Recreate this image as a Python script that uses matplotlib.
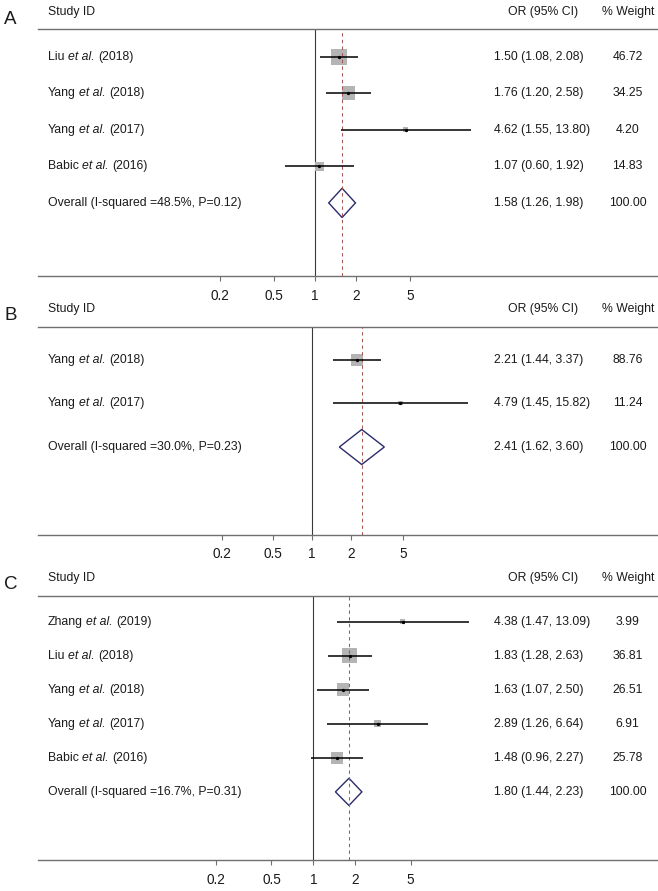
import numpy as np
import matplotlib
matplotlib.use("Agg")
import matplotlib.pyplot as plt
from matplotlib.patches import Polygon
from matplotlib.ticker import NullLocator, FixedLocator, FixedFormatter
from matplotlib.transforms import offset_copy

plt.rcParams['font.family'] = ['Liberation Sans', 'DejaVu Sans']

# ---------------- data ----------------
tick_values = [0.2, 0.5, 1, 2, 5]
tick_labels = ["0.2", "0.5", "1", "2", "5"]

A_authors = ["Liu", "Yang", "Yang", "Babic"]
A_years = [2018, 2018, 2017, 2016]
A_or = [1.50, 1.76, 4.62, 1.07]
A_lo = [1.08, 1.20, 1.55, 0.60]
A_hi = [2.08, 2.58, 13.80, 1.92]
A_w = [46.72, 34.25, 4.20, 14.83]
A_overall = [1.58, 1.26, 1.98]
A_i2 = 48.5
A_p = 0.12

B_authors = ["Yang", "Yang"]
B_years = [2018, 2017]
B_or = [2.21, 4.79]
B_lo = [1.44, 1.45]
B_hi = [3.37, 15.82]
B_w = [88.76, 11.24]
B_overall = [2.41, 1.62, 3.60]
B_i2 = 30.0
B_p = 0.23

C_authors = ["Zhang", "Liu", "Yang", "Yang", "Babic"]
C_years = [2019, 2018, 2018, 2017, 2016]
C_or = [4.38, 1.83, 1.63, 2.89, 1.48]
C_lo = [1.47, 1.28, 1.07, 1.26, 0.96]
C_hi = [13.09, 2.63, 2.50, 6.64, 2.27]
C_w = [3.99, 36.81, 26.51, 6.91, 25.78]
C_overall = [1.80, 1.44, 2.23]
C_i2 = 16.7
C_p = 0.31

panels = [
    dict(letter="A", authors=A_authors, years=A_years, est=A_or, lo=A_lo, hi=A_hi,
         w=A_w, overall=A_overall, i2=A_i2, p=A_p),
    dict(letter="B", authors=B_authors, years=B_years, est=B_or, lo=B_lo, hi=B_hi,
         w=B_w, overall=B_overall, i2=B_i2, p=B_p),
    dict(letter="C", authors=C_authors, years=C_years, est=C_or, lo=C_lo, hi=C_hi,
         w=C_w, overall=C_overall, i2=C_i2, p=C_p),
]

# ---------------- layout (pixels) ----------------
W, H = 658, 891
L_PX, R_PX = 38.3, 658.0
layout = [
    dict(header=29.3, axis=276.0, x1=315.0, half=155.5, box=16.0, let=10.0),
    dict(header=326.7, axis=534.5, x1=312.2, half=155.5, box=12.0, let=11.7),
    dict(header=596.0, axis=860.0, x1=313.4, half=155.5, box=15.0, let=11.3),
]

TXT = '#1a1a1a'
GRAY_LINE = '#707070'
BOX_COL = '#b4b4b4'
DIAMOND_COL = '#2b2b6b'
DASH_COL = '#a85650'
FS = 8.8
SPACE_PX = 0.278 * FS * 100 / 72

fig = plt.figure(figsize=(W / 100, H / 100), dpi=100)
renderer = fig.canvas.get_renderer()


def fx(px):
    return (px - L_PX) / (R_PX - L_PX)


def study_label(ax, tr, x, y, author, year):
    t1 = ax.text(x, y, author, transform=tr, ha='left', va='center',
                 fontsize=FS, color=TXT)
    w1 = t1.get_window_extent(renderer).width
    tr2 = offset_copy(tr, fig=fig, x=w1 + SPACE_PX, y=0, units='dots')
    t2 = ax.text(x, y, "et al.", transform=tr2, ha='left', va='center',
                 fontsize=FS, color=TXT, style='italic')
    w2 = t2.get_window_extent(renderer).width
    tr3 = offset_copy(tr, fig=fig, x=w1 + w2 + 2 * SPACE_PX, y=0, units='dots')
    ax.text(x, y, f"({year})", transform=tr3, ha='left', va='center',
            fontsize=FS, color=TXT)


for pan, lay in zip(panels, layout):
    n = len(pan['est']) + 1
    ax = fig.add_axes([L_PX / W, 1 - lay['axis'] / H,
                       (R_PX - L_PX) / W, (lay['axis'] - lay['header']) / H])
    row_px = (lay['axis'] - lay['header']) / (n + 1.75)

    # x scale (log), symmetric data range about 1
    ext = np.log(max(pan['hi'] + [1 / min(pan['lo'])]))
    scale = lay['half'] / ext
    xmin = np.exp((L_PX - lay['x1']) / scale)
    xmax = np.exp((R_PX - lay['x1']) / scale)
    ax.set_xscale('log')
    ax.set_xlim(xmin, xmax)
    ax.set_ylim(n + 1, -0.75)

    for s in ['left', 'right']:
        ax.spines[s].set_visible(False)
    for s in ['top', 'bottom']:
        ax.spines[s].set_color(GRAY_LINE)
        ax.spines[s].set_linewidth(1.0)
    ax.set_yticks([])
    ax.xaxis.set_major_locator(FixedLocator(tick_values))
    ax.xaxis.set_major_formatter(FixedFormatter(tick_labels))
    ax.xaxis.set_minor_locator(NullLocator())
    ax.tick_params(axis='x', direction='out', length=3.3, width=0.8,
                   color=GRAY_LINE, pad=6.0, labelsize=9.8, labelcolor=TXT)

    ax.axvline(1, color='#3a3a3a', lw=0.8, zorder=1)
    ax.axvline(pan['overall'][0], color=DASH_COL, lw=0.75,
               linestyle=(0, (3.2, 3.2)), zorder=3)

    ys = np.arange(len(pan['est']))
    wmax = max(pan['w'])
    sides = [lay['box'] / 1.389 * np.sqrt(wi / wmax) for wi in pan['w']]
    ax.scatter(pan['est'], ys, marker='s', s=np.array(sides) ** 2,
               color=BOX_COL, linewidths=0, zorder=2)
    ax.hlines(ys, pan['lo'], pan['hi'], color='black', lw=1.1, zorder=4)
    ax.plot(pan['est'], ys, 'o', color='black', ms=2.4, mew=0, zorder=5)

    # overall diamond
    oy = len(pan['est'])
    o_est, o_lo, o_hi = pan['overall']
    hh = 0.4
    dia = Polygon([[o_lo, oy], [o_est, oy - hh], [o_hi, oy], [o_est, oy + hh]],
                  closed=True, facecolor='white', edgecolor=DIAMOND_COL,
                  lw=1.0, zorder=2.5)
    ax.add_patch(dia)

    tr = ax.get_yaxis_transform()
    ors = [f"{e:.2f} ({l:.2f}, {h:.2f})" for e, l, h in zip(pan['est'], pan['lo'], pan['hi'])]
    ors.append(f"{o_est:.2f} ({o_lo:.2f}, {o_hi:.2f})")
    wts = [f"{wi:.2f}" for wi in pan['w']] + ["100.00"]
    for i in range(n - 1):
        study_label(ax, tr, fx(48), i, pan['authors'][i], pan['years'][i])
    ax.text(fx(48), n - 1, f"Overall (I-squared ={pan['i2']:.1f}%, P={pan['p']:.2f})",
            transform=tr, ha='left', va='center', fontsize=FS, color=TXT)
    for i in range(n):
        ax.text(fx(494.5), i, ors[i], transform=tr, ha='left', va='center',
                fontsize=FS, color=TXT)
        ax.text(fx(627.5), i, wts[i], transform=tr, ha='center', va='center',
                fontsize=FS, color=TXT)

    hy = -0.75 - 17.7 / row_px
    ax.text(fx(48), hy, "Study ID", transform=tr, ha='left', va='center',
            fontsize=FS, color=TXT)
    ax.text(fx(543), hy, "OR (95% CI)", transform=tr, ha='center', va='center',
            fontsize=FS, color=TXT)
    ax.text(fx(628), hy, "% Weight", transform=tr, ha='center', va='center',
            fontsize=FS, color=TXT)
    ly = -0.75 - lay['let'] / row_px
    ax.text(fx(4), ly, pan['letter'], transform=tr, ha='left', va='center',
            fontsize=13.5, color=TXT)

fig.savefig("out.png", dpi=100)
